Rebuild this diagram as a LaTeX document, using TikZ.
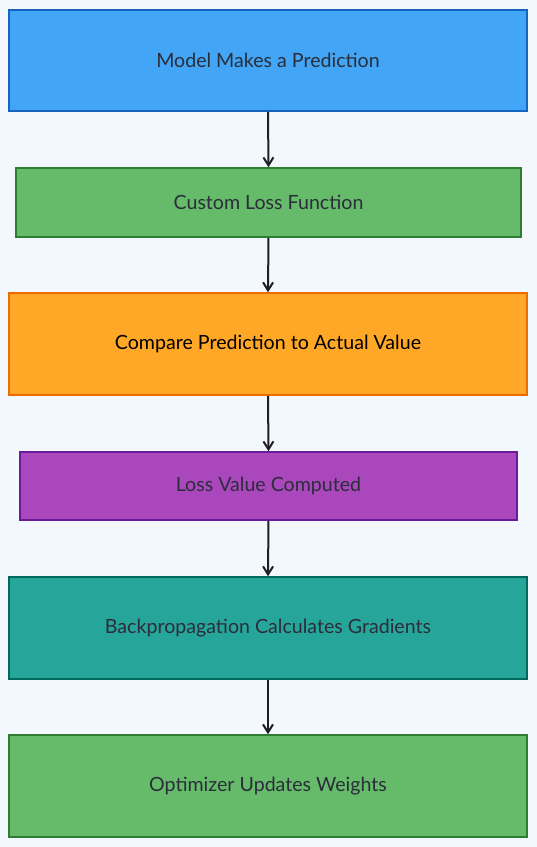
\documentclass[tikz,border=0pt]{standalone}
\usepackage{fontspec}
\setmainfont{Lato}
\usetikzlibrary{arrows.meta}
\definecolor{bg}{HTML}{F3F8FE}
\definecolor{txt}{HTML}{2B2D3A}
\definecolor{arrc}{HTML}{1E1E24}
\definecolor{bluef}{HTML}{42A5F5}\definecolor{blued}{HTML}{1565C0}
\definecolor{greenf}{HTML}{66BB6A}\definecolor{greend}{HTML}{2E7D32}
\definecolor{orangef}{HTML}{FFA726}\definecolor{oranged}{HTML}{EF6C00}
\definecolor{purplef}{HTML}{AB47BC}\definecolor{purpled}{HTML}{6A1B9A}
\definecolor{tealf}{HTML}{26A69A}\definecolor{teald}{HTML}{00695C}
\begin{document}
\begin{tikzpicture}[x=1pt,y=-1pt,
  box/.style={draw, line width=1.5pt, inner sep=0pt, font=\fontsize{19.6}{22}\selectfont, text=txt},
  arr/.style={draw=arrc, line width=2pt, -{Straight Barb[length=8pt,width=10pt]}}]
\fill[bg] (0,0) rectangle (537,847);
\useasboundingbox (0,0) rectangle (537,847);
\node[box, fill=bluef, draw=blued, minimum width=518pt, minimum height=101pt] (n1) at (268,60.5) {Model Makes a Prediction};
\node[box, fill=greenf, draw=greend, minimum width=505pt, minimum height=69pt] (n2) at (268.5,202.5) {Custom Loss Function};
\node[box, fill=orangef, draw=oranged, minimum width=518pt, minimum height=102pt, text=black] (n3) at (268,344) {Compare Prediction to Actual Value};
\node[box, fill=purplef, draw=purpled, minimum width=497pt, minimum height=68pt] (n4) at (268.5,486) {Loss Value Computed};
\node[box, fill=tealf, draw=teald, minimum width=518pt, minimum height=102pt] (n5) at (268,628) {Backpropagation Calculates Gradients};
\node[box, fill=greenf, draw=greend, minimum width=518pt, minimum height=102pt] (n6) at (268,786) {Optimizer Updates Weights};
\draw[arr] (n1.south) -- (n2.north);
\draw[arr] (n2.south) -- (n3.north);
\draw[arr] (n3.south) -- (n4.north);
\draw[arr] (n4.south) -- (n5.north);
\draw[arr] (n5.south) -- (n6.north);
\end{tikzpicture}
\end{document}
